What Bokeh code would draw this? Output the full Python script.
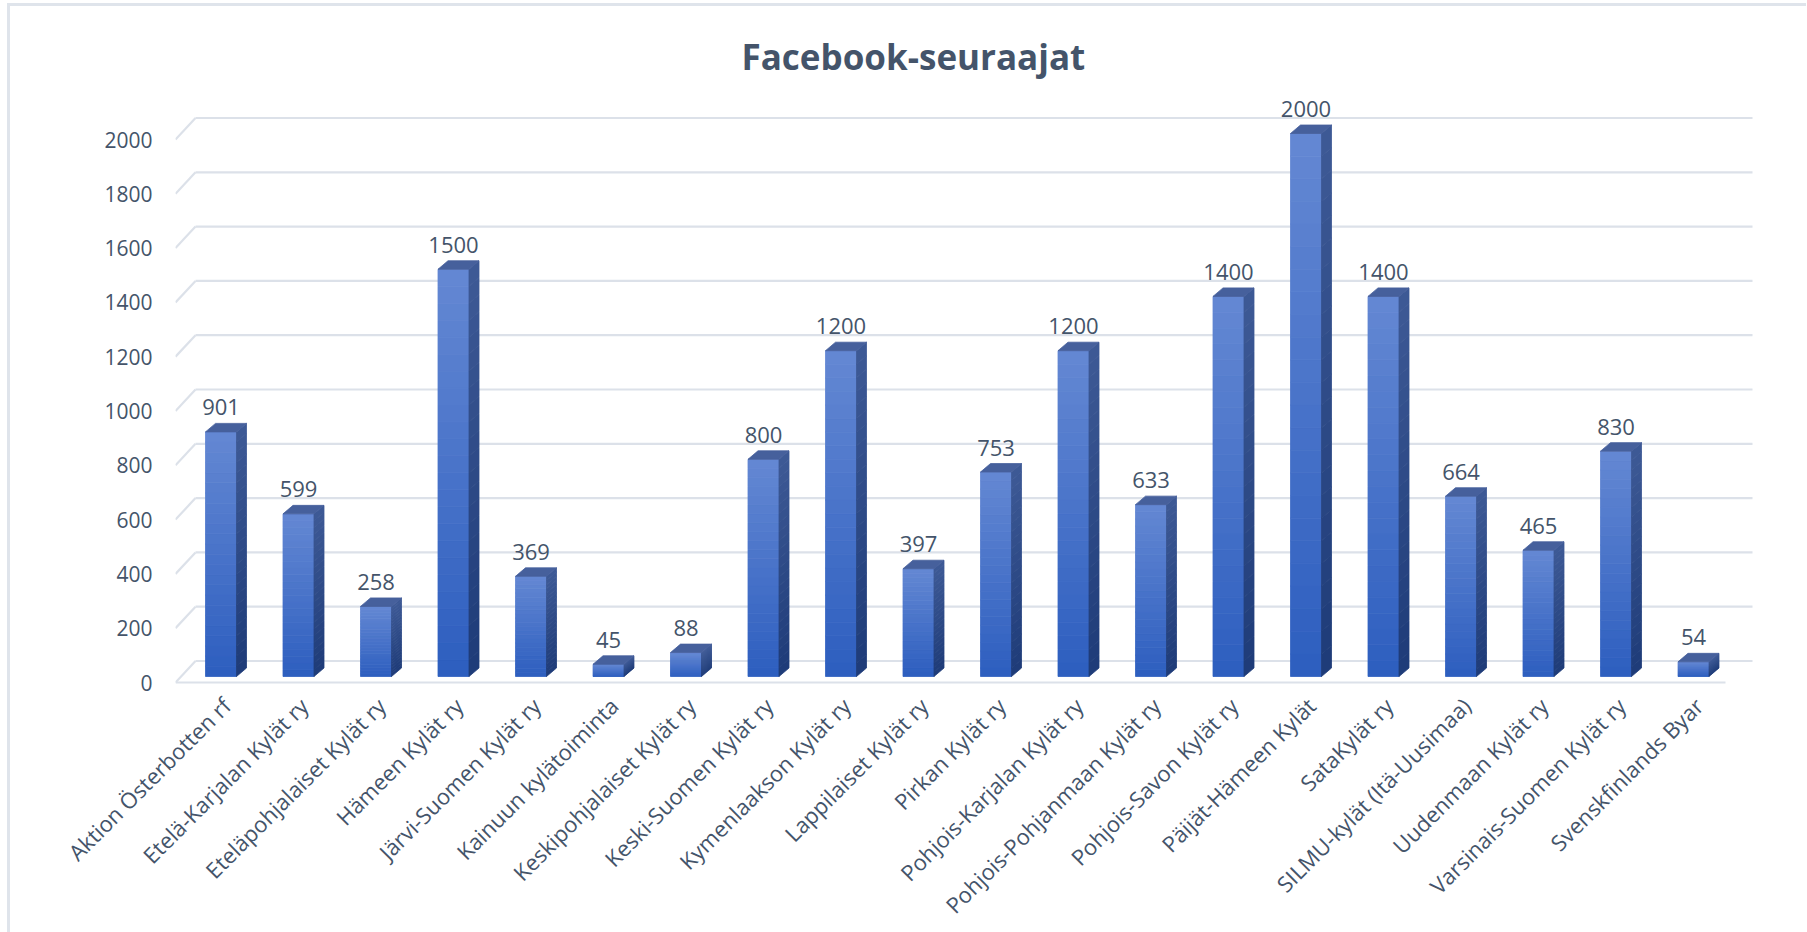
import numpy as np
from bokeh.plotting import figure
from bokeh.models import Range1d, FixedTicker
from bokeh.core.properties import value
from bokeh.embed import file_html
from bokeh.resources import INLINE

# ---------------- data ----------------
categories = [
    "Aktion Österbotten rf", "Etelä-Karjalan Kylät ry", "Eteläpohjalaiset Kylät ry",
    "Hämeen Kylät ry", "Järvi-Suomen Kylät ry", "Kainuun kylätoiminta",
    "Keskipohjalaiset Kylät ry", "Keski-Suomen Kylät ry", "Kymenlaakson Kylät ry",
    "Lappilaiset Kylät ry", "Pirkan Kylät ry", "Pohjois-Karjalan Kylät ry",
    "Pohjois-Pohjanmaan Kylät ry", "Pohjois-Savon Kylät ry", "Päijät-Hämeen Kylät",
    "SataKylät ry", "SILMU-kylät (Itä-Uusimaa)", "Uudenmaan Kylät ry",
    "Varsinais-Suomen Kylät ry", "Svenskfinlands Byar",
]
followers = [901, 599, 258, 1500, 369, 45, 88, 800, 1200, 397,
             753, 1200, 633, 1400, 2000, 1400, 664, 465, 830, 54]
y_ticks = [0, 200, 400, 600, 800, 1000, 1200, 1400, 1600, 1800, 2000]
title_text = "Facebook-seuraajat"

# ---------------- layout constants (pixels, screen) ----------------
TXT = "#44546a"
FONT = "Open Sans"
OX, OY = 10, 6   # canvas origin on screen (margin + border)
SW = 77.5        # px per category slot
KY = 0.2715      # px per follower
LS = 12.0        # label anchor shift (px) from slot centre
F_LEFT, F_RIGHT, F_TOP, F_BOT = 175.0, 1760.0, 88.0, 684.0   # frame (screen)
Y0 = 682.0       # screen y of value 0 on front plane
BACK_L, BACK_R, BACK_DY = 195.0, 1752.0, 21.5
BASE_DY = 6.0    # bar base above front floor
BAR_OFF, BAR_W = 30.0, 31.0
DEP_DX, DEP_DY = 10.0, 8.5
LBL_GAP = 16.0
TITLE_LEFT = 741.0

def ux(sx):  # screen x -> data x
    return (sx - F_LEFT - LS) / SW - 0.5

def dvy(py):  # pixel height -> value units
    return py / KY

p = figure(frame_width=int(F_RIGHT - F_LEFT), frame_height=int(F_BOT - F_TOP),
           output_backend="svg", toolbar_location=None,
           x_range=Range1d(ux(F_LEFT), ux(F_RIGHT)),
           y_range=Range1d(-dvy(F_BOT - Y0), dvy(Y0 - F_TOP)),
           min_border_left=int(F_LEFT - OX), min_border_right=46,
           min_border_top=int(F_TOP - OY), min_border_bottom=200)
p.styles = {"margin-left": "7px", "margin-top": "3px",
            "border-left": "3px solid #dfe4eb", "border-top": "3px solid #dfe4eb"}
p.outline_line_color = None
p.grid.visible = False
p.background_fill_color = "white"
p.border_fill_color = "white"

# title
p.title.text = title_text
p.title.align = "left"
p.title.text_font = FONT
p.title.text_font_style = "bold"
p.title.text_font_size = "35px"
p.title.text_color = TXT
p.title.offset = TITLE_LEFT - F_LEFT
p.title.standoff = 17

# ---------------- walls / gridlines ----------------
fl, fr = ux(F_LEFT), ux(F_LEFT + 20 * SW)
bl, br = ux(BACK_L), ux(BACK_R)
dv_back = dvy(BACK_DY)
grid_col = "#dce1e9"
p.segment(x0=[bl] * len(y_ticks), y0=[v + dv_back for v in y_ticks],
          x1=[br] * len(y_ticks), y1=[v + dv_back for v in y_ticks],
          line_color=grid_col, line_width=2.2)
p.segment(x0=[fl] * len(y_ticks), y0=y_ticks,
          x1=[bl] * len(y_ticks), y1=[v + dv_back for v in y_ticks],
          line_color=grid_col, line_width=2.2)
p.segment(x0=[fl], y0=[0], x1=[fr], y1=[0], line_color=grid_col, line_width=2.2)

# ---------------- 3D bars ----------------
def lerp(c1, c2, t):
    a = np.array([int(c1[i:i + 2], 16) for i in (1, 3, 5)], float)
    b = np.array([int(c2[i:i + 2], 16) for i in (1, 3, 5)], float)
    c = a + (b - a) * t
    return "#%02x%02x%02x" % tuple(int(round(v)) for v in c)

FRONT_BOT, FRONT_TOP = "#2d5ebf", "#6488d3"
SIDE_BOT, SIDE_TOP = "#1e3b78", "#3e5a96"
TOP_COL = "#46609c"
N = 24
vb = dvy(BASE_DY)
ddx, ddy = DEP_DX / SW, dvy(DEP_DY)
bw = BAR_W / SW

fx, fw, fb, ft, fc = [], [], [], [], []
sxs, sys_, scs = [], [], []
txs, tys = [], []
lx, ly, lt = [], [], []
for i, v in enumerate(followers):
    xl = ux(F_LEFT + BAR_OFF + SW * i)
    xr = xl + bw
    top = vb + v
    for k in range(N):
        b0 = vb + v * k / N
        b1 = vb + v * (k + 1) / N
        t = (k + 0.5) / N
        fx.append((xl + xr) / 2); fw.append(bw); fb.append(b0); ft.append(b1)
        fc.append(lerp(FRONT_BOT, FRONT_TOP, t))
        sxs.append([xr, xr + ddx, xr + ddx, xr])
        sys_.append([b0, b0 + ddy, b1 + ddy, b1])
        scs.append(lerp(SIDE_BOT, SIDE_TOP, t))
    txs.append([xl, xr, xr + ddx, xl + ddx])
    tys.append([top, top, top + ddy, top + ddy])
    lx.append((xl + xr) / 2)
    ly.append(top + ddy + dvy(LBL_GAP))
    lt.append(str(v))

p.vbar(x=fx, width=fw, bottom=fb, top=ft, fill_color=fc, line_color=fc, line_width=0.8)
p.patches(xs=sxs, ys=sys_, fill_color=scs, line_color=scs, line_width=0.8)
p.patches(xs=txs, ys=tys, fill_color=TOP_COL, line_color=TOP_COL, line_width=0.8)
p.text(x=lx, y=ly, text=lt, text_align="center", text_baseline="alphabetic",
       text_font=value(FONT), text_font_size="22px", text_color=TXT)

# ---------------- axes ----------------
ya = p.yaxis[0]
ya.ticker = FixedTicker(ticks=y_ticks)
ya.axis_line_color = None
ya.major_tick_line_color = None
ya.minor_tick_line_color = None
ya.major_label_standoff = 17
ya.major_label_text_font = FONT
ya.major_label_text_font_size = "21px"
ya.major_label_text_color = TXT

xa = p.xaxis[0]
xa.ticker = FixedTicker(ticks=list(range(len(categories))))
xa.major_label_overrides = {i: c for i, c in enumerate(categories)}
xa.major_label_orientation = np.pi / 4
xa.axis_line_color = None
xa.major_tick_line_color = None
xa.minor_tick_line_color = None
xa.major_label_standoff = 11
xa.major_label_text_font = FONT
xa.major_label_text_font_size = "22px"
xa.major_label_text_color = TXT

open("out.html", "w").write(file_html(p, INLINE))
